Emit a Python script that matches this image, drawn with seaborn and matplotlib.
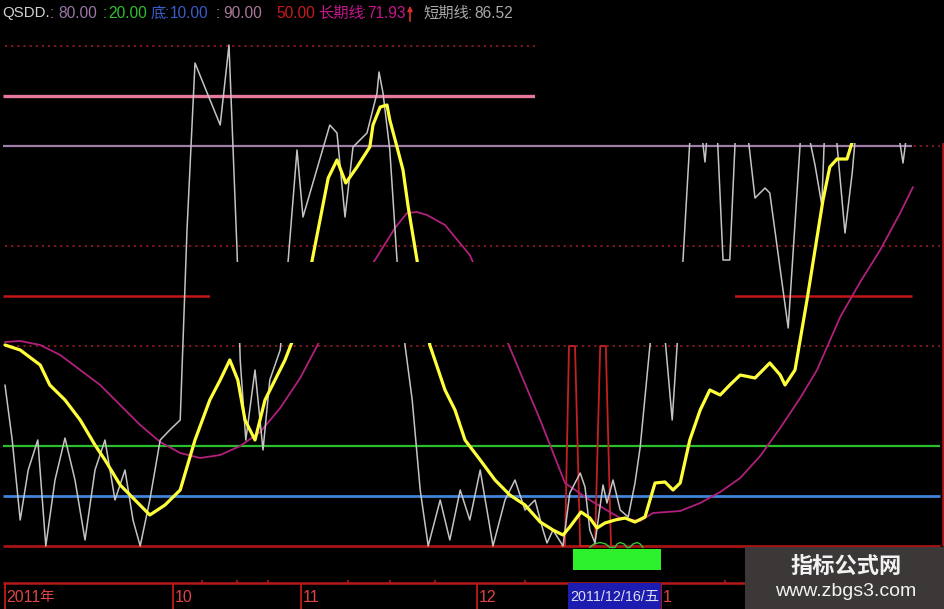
import matplotlib
matplotlib.use("Agg")
import matplotlib.pyplot as plt
import seaborn as sns
import pandas as pd
from matplotlib.patches import Rectangle

sns.set_theme(style="dark", rc={"axes.facecolor": "#000000", "figure.facecolor": "#000000"})
LAT = ['Liberation Sans', 'Noto Sans CJK SC', 'DejaVu Sans']
CJK = ['Noto Sans CJK SC', 'DejaVu Sans']
plt.rcParams['font.family'] = LAT

# ---------------- data (trading-day index, indicator value) ----------------
yellow_day = [0, 1.9, 4.4, 5.6, 7.5, 9.4, 11.25, 12.5, 14.4, 16.25,
              18.1, 20, 21.9, 23.75, 25.6, 26.9, 28.1, 29.1, 30, 31.25,
              32.5, 33.75, 35, 36.9, 38.4, 40.4, 41.5, 42.6, 44, 45.6,
              46, 46.9, 47.75, 48.1, 49, 49.75, 50.4, 51.5, 53.1, 55,
              56.25, 57.5, 59.4, 61.25, 63.1, 65, 66.9, 68.5, 69.75, 70.6,
              72, 73.1, 74, 75, 76.25, 77.5, 78.75, 80, 81.25, 82.5,
              83.5, 84.4, 85.6, 86.9, 88.1, 89.4, 90.6, 91.9, 93.75, 95.6,
              96.9, 97.5, 98.75, 100.25, 101.25, 102.25, 103.1, 104, 105.25, 105.9,
              106.25]
yellow_val = [40.2, 39.2, 36.2, 32.2, 29.2, 25.2, 20.2, 17.2, 12.2, 9.2,
              6.2, 8.2, 11.2, 21.2, 29.2, 33.2, 37.2, 33.2, 25.2, 21.2,
              29.2, 33.2, 37.2, 45, 57.2, 73.6, 77.2, 72.6, 75.8, 79.8,
              84.2, 87.8, 88.2, 85.2, 79.8, 75.2, 67.8, 57.2, 40.2, 31.2,
              27.2, 21.2, 17.2, 13.2, 10.2, 8.2, 4.8, 3.2, 2.2, 3.8,
              6.8, 5.6, 3.6, 4.6, 5.2, 5.6, 4.8, 5.8, 12.6, 12.8,
              11.2, 12.6, 21.2, 27.2, 31.2, 30.2, 32.2, 34.2, 33.6, 36.6,
              34.2, 32.2, 35.2, 49.2, 59.2, 69.2, 75.8, 77.4, 77.4, 80.8,
              83.2]

gray_day = [0, 0.9, 1.9, 2.9, 4.1, 5.1, 6.25, 7.5, 8.75, 10,
            11.25, 12.5, 13.75, 15, 16, 16.9, 18.1, 19.4, 20.6, 21.9,
            22.75, 23.75, 26.9, 28, 29, 29.4, 30.1, 31.25, 32.25, 33.1,
            34.4, 35.4, 36.5, 37.25, 40.6, 41.5, 42.5, 43.5, 45.25, 46.5,
            46.75, 47.25, 48.1, 49, 50, 50.9, 51.9, 52.9, 54.4, 55.6,
            56.9, 58.1, 59.4, 61, 62.5, 63.75, 65, 66.25, 67.25, 67.75,
            68.5, 69.75, 70.6, 71.9, 72.5, 73.1, 73.75, 74.75, 75.25, 76,
            76.9, 77.9, 78.75, 79.4, 80, 80.6, 81.4, 82.1, 82.6, 83.4,
            84, 84.75, 85.9, 86.9, 87.5, 88.1, 88.9, 89.75, 90.6, 91.5,
            92.5, 93.75, 95, 95.6, 97.9, 99.75, 100.6, 101.25, 102.1, 102.6,
            103.5, 105, 105.9, 106.6, 109.4, 111.25, 112.25, 113.1]
gray_val = [32.2, 21.2, 5.2, 15.2, 21.2, 0, 13.2, 21.6, 13.2, 1.2,
            15.2, 21.2, 9.2, 15.2, 5.2, 0, 9.2, 21.2, 23.2, 25.2,
            63.2, 96.6, 84.2, 100.2, 59.2, 37.2, 21.2, 35.2, 19.2, 33.2,
            39.2, 57.2, 79.2, 65.8, 84.2, 82.6, 65.8, 79.8, 82.6, 90.6,
            94.8, 90.6, 79.2, 57.2, 40.2, 29.2, 11.2, 0, 9.2, 1.2,
            11.2, 5.2, 15.2, 0, 9.2, 13.2, 7.2, 9.2, 3.2, 0.6,
            3.2, 0, 10.6, 14.6, 11.8, 3.2, 0.6, 12.2, 8.6, 13.2,
            7.2, 5.8, 12.6, 19.8, 29.8, 39.8, 51.2, 49.2, 39.8, 25.2,
            39.8, 57.2, 89.2, 85.2, 76.8, 89.2, 87.2, 57.2, 57.2, 89.2,
            87.2, 69.6, 71.6, 70.6, 43.6, 89.2, 81.2, 76.2, 68.2, 89.2,
            89.2, 62.6, 74.6, 87.2, 89.2, 87.2, 76.6, 87.2]

magenta_day = [0, 1.9, 4.4, 6.9, 9.4, 11.9, 14.4, 16.9, 19.4, 21.9,
               24.4, 26.9, 29.4, 31.9, 34.4, 36.9, 39.4, 42.5, 46.25, 48.75,
               50.25, 51.5, 52.75, 55, 58.1, 60.6, 63.75, 66.9, 70, 73.1,
               75.6, 76.9, 79.4, 81, 84.4, 86.9, 89.4, 91.9, 94.4, 96.9,
               99.4, 101.5, 104.4, 106.9, 109.4, 111.9, 113.5]
magenta_val = [40.8, 41, 40.2, 38.2, 35.2, 32.2, 28.2, 24.2, 20.8, 18.6,
               17.6, 18.2, 20, 22.8, 27.6, 33.6, 41.2, 49.2, 57.2, 63.6,
               66.6, 66.8, 66.2, 64.2, 58.2, 49.2, 37.2, 25.2, 12.6, 9.2,
               6.8, 5.6, 5, 6.6, 7, 8.6, 10.8, 13.6, 18, 23.6,
               29.6, 35.2, 45.8, 52.8, 59.2, 66.6, 71.8]

signal_day = [69.5, 70.0, 70.5, 71.25, 71.9, 73.75, 74.4, 75.1, 75.75, 76.3]
signal_val = [0, 0, 40, 40, 0, 0, 40, 40, 0, 0]

wave_day = [73.1, 73.6, 74.4, 75.1, 75.6, 76.25, 76.5, 76.9, 77.4, 77.75,
            78.1, 78.5, 79.0, 79.4, 79.75]
wave_val = [-0.3, 0.4, 0.7, 0.4, -0.3, -0.3, 0.4, 0.7, 0.4, -0.3,
            -0.3, 0.4, 0.7, 0.4, -0.3]

bottom_days = [71, 72, 73, 74, 75, 76, 77, 78, 79, 80, 81]

level_values = {"top": 100, "upper": 90, "high": 80, "mid_hi": 60, "mid": 50,
                "mid_lo": 40, "low": 20, "floor": 10, "zero": 0}

month_days = [0, 21, 37, 59, 82]
month_labels = ["2011", "10", "11", "12", "1"]
minor_tick_days = [24.6, 29, 32.9, 42.9, 48.1, 53.75, 65, 90, 100, 106]
cursor_day = 70.4
cursor_label = "2011/12/16/五"

header = [("QSDD.", "#d2d2d2"), (":", "#9a78a8"), ("80.00", "#9a78a8"),
          (":", "#2fbf2f"), ("20.00", "#2fbf2f"),
          ("底", "#3a5cc8"), (":", "#3a5cc8"), ("10.00", "#3a5cc8"),
          (":", "#a87898"), ("90.00", "#a87898"),
          ("50.00", "#c81c1c"), ("长期线", "#c8168e"), (":", "#c8168e"), ("71.93", "#c8168e"),
          ("短期线", "#a8a8a8"), (":", "#a8a8a8"), ("86.52", "#a8a8a8")]
header_x_px = [2, 50, 58, 103, 108, 151, 165, 170, 216, 223, 276, 318, 362, 367, 423, 468, 474]

# ---------------- figure ----------------
W, H = 945, 609
fig = plt.figure(figsize=(W / 100, H / 100), dpi=100)
fig.patch.set_facecolor("#000000")
ax = fig.add_axes([0, 0, 1, 1])
ax.set_facecolor("#000000")
ax.set_xlim(-0.625, 117.5)
ax.set_ylim(-12.6, 109.2)
ax.set_axis_off()

day_end = 113.4
day_edge = 116.9

# level lines
dot = (0, (1.2, 2.2))
for v in (level_values["top"], level_values["high"], level_values["mid_hi"], level_values["mid_lo"]):
    ax.hlines(v, 0, day_edge, colors="#8a1c1c", linewidth=1.3, linestyles=dot, zorder=1)
ax.hlines(level_values["upper"], -0.25, day_end, colors="#e8789a", linewidth=2.4, zorder=2)
ax.hlines(level_values["high"], -0.25, day_end, colors="#9c7ea6", linewidth=1.6, zorder=2)
ax.hlines(level_values["mid"], -0.25, day_end, colors="#c41616", linewidth=1.8, zorder=2)
ax.hlines(level_values["low"], -0.25, day_edge, colors="#2cbd2c", linewidth=1.6, zorder=2)
ax.hlines(level_values["floor"], -0.25, day_edge, colors="#3f84d8", linewidth=2.0, zorder=2)
ax.hlines(level_values["zero"], -0.25, day_edge, colors="#a81414", linewidth=2.0, zorder=2)
ax.vlines(117.25, 0, 109, colors="#b01414", linewidth=1.8, zorder=2)

# series
sns.lineplot(x=signal_day, y=signal_val, ax=ax, color="#c42020", linewidth=1.3,
             estimator=None, sort=False, zorder=3)
sns.lineplot(x=wave_day, y=wave_val, ax=ax, color="#36c436", linewidth=1.0,
             estimator=None, sort=False, zorder=3)
sns.lineplot(x=magenta_day, y=magenta_val, ax=ax, color="#b0207c", linewidth=1.3,
             estimator=None, sort=False, zorder=3)
sns.lineplot(x=gray_day, y=gray_val, ax=ax, color="#c4c4c4", linewidth=1.1,
             estimator=None, sort=False, zorder=3)
sns.lineplot(x=yellow_day, y=yellow_val, ax=ax, color="#ffff3a", linewidth=2.3,
             estimator=None, sort=False, zorder=4)

# bottom signal bars
ax.bar(bottom_days, [-4.2] * len(bottom_days), bottom=-0.6, width=1.0, align="edge",
       color="#2cf02c", linewidth=0, zorder=3)

# cover boxes (redactions in the original screenshot)
ax.add_patch(Rectangle((210 / W, 1 - 343 / H), 525 / W, 81 / H, transform=ax.transAxes,
                       facecolor="#000000", edgecolor="none", zorder=6))
ax.add_patch(Rectangle((535 / W, 1 - 143 / H), 410 / W, 143 / H, transform=ax.transAxes,
                       facecolor="#000000", edgecolor="none", zorder=6))

# header text
for (txt, col), xp in zip(header, header_x_px):
    is_cjk = any(ord(ch) > 0x2e80 for ch in txt)
    size = 11 if is_cjk else (10.8 if txt.startswith("Q") else 11.2)
    ax.text(xp / W, 1 - 13 / H, txt, transform=ax.transAxes, color=col,
            fontsize=size, family=CJK if is_cjk else LAT,
            ha="left", va="center", zorder=8)
ax.annotate("", xy=(410 / W, 1 - 3 / H), xytext=(410 / W, 1 - 24 / H),
            xycoords=ax.transAxes, textcoords=ax.transAxes,
            arrowprops=dict(arrowstyle="-|>", color="#d03030", lw=1.2, mutation_scale=7),
            zorder=8)

# time axis strip
strip_y = -7.4
ax.hlines(strip_y, -0.3, day_edge, colors="#b41818", linewidth=1.8, zorder=2)
ax.vlines(month_days, -12.6, strip_y, colors="#b41818", linewidth=1.4, zorder=2)
ax.vlines(minor_tick_days, strip_y, strip_y + 0.7, colors="#b41818", linewidth=1.2, zorder=2)
for d, lab in zip(month_days, month_labels):
    ax.text(d + 0.2, -10.3, lab, color="#e04444", fontsize=11.5, family=LAT,
            ha="left", va="center", zorder=8)
ax.text(month_days[0] + 4.35, -10.3, "年", color="#e04444", fontsize=10.5, family=CJK,
        ha="left", va="center", zorder=8)
ax.add_patch(Rectangle((cursor_day, -12.6), 11.6, 5.2, facecolor="#1c1cb0",
                       edgecolor="none", zorder=7))
ax.text(cursor_day + 0.2, -10.2, cursor_label, color="#e0e0f0", fontsize=10.3,
        family=LAT, ha="left", va="center", zorder=8)

# watermark
ax.add_patch(Rectangle((745 / W, 0), 200 / W, 62 / H, transform=ax.transAxes,
                       facecolor="#3d3838", edgecolor="none", zorder=9))
ax.text(846 / W, 1 - 566 / H, "指标公式网", transform=ax.transAxes, color="#f2f2f2",
        fontsize=16, fontweight="bold", family=CJK, ha="center", va="center", zorder=10)
ax.text(846 / W, 1 - 592 / H, "www.zbgs3.com", transform=ax.transAxes, color="#f2f2f2",
        fontsize=14, family=['Liberation Sans', 'DejaVu Sans'], ha="center", va="center", zorder=10)

fig.savefig("out.png", dpi=100, facecolor="#000000")
